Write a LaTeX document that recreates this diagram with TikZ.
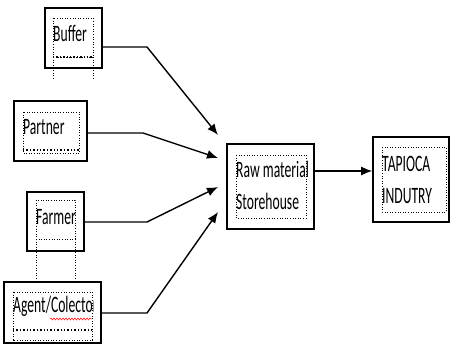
\documentclass[tikz,border=0pt]{standalone}
\usepackage{fontspec}
\setmainfont{Carlito}
\newfontfamily\narrowfont[FakeStretch=0.58]{Carlito}
\usetikzlibrary{arrows.meta,decorations.pathmorphing}

\begin{document}
\begin{tikzpicture}[x=1pt,y=-1pt,
	box/.style={draw, line width=1.6pt, inner sep=0pt},
	frame/.style={draw, dotted, line width=0.6pt},
	hatch/.style={draw, dotted, line width=1.4pt},
	lbl/.style={anchor=base west, inner sep=0pt, align=left, font=\narrowfont\fontsize{23.5}{32}\selectfont},
	feed/.style={line width=1.4pt, -{Latex[length=11pt,width=9pt]}}]
			%%%%% START %%%%%
			\useasboundingbox (0,0) rectangle (450,344);
			
			% sources
			\node[box, minimum width=57pt, minimum height=60pt] (buffer) at (73.5,38) {};
			\draw[frame] (53,18) rectangle (93,57);
			\draw[frame] (53,57) -- (53,78) (93,57) -- (93,78);
			\draw[hatch] (53,57) -- (93,57);
			\node[lbl] (bufferTxt) at (53,42) {Buffer};
			
			\node[box, minimum width=73pt, minimum height=60pt] (partner) at (50.5,131) {};
			\draw[frame] (23,112) rectangle (79,153);
			\draw[hatch] (23,150) -- (79,150);
			\node[lbl] (partnerTxt) at (23,135) {Partner};
			
			\node[box, minimum width=57pt, minimum height=59pt] (farmer) at (55.5,221.5) {};
			\draw[frame] (36,200) rectangle (75,239);
			\draw[frame] (36,239) -- (36,282) (75,239) -- (75,282);
			\node[lbl] (farmerTxt) at (36,225) {Farmer};
			
			\node[box, minimum width=97pt, minimum height=61pt] (agent) at (52.5,312.5) {};
			\draw[frame] (13,292) rectangle (92,340);
			\draw[frame] (13,340) -- (13,343) (92,340) -- (92,343);
			\draw[hatch] (13,330) -- (92,330);
			\begin{scope}
				\clip (13,290) rectangle (93,340);
				\node[lbl] (agentTxt) at (13,313) {Agent/Colector};
			\end{scope}
			\draw[red, line width=0.5pt, decorate, decoration={snake, amplitude=1pt, segment length=3pt}] (50,319) -- (92,319);
			
			% store and industry
			\node[box, minimum width=87pt, minimum height=85pt] (raw) at (270.5,186.5) {};
			\draw[frame] (236,155) rectangle (306,218);
			\node[lbl] (rawTxt) at (236,210) {Raw material\\Storehouse};
			
			\node[box, minimum width=76pt, minimum height=85pt] (tapioca) at (411,179.5) {};
			\draw[frame] (382,147) rectangle (446,212);
			\node[lbl] (tapiocaTxt) at (382,204) {TAPIOCA\\INDUTRY};
			
			% connectors
			\coordinate (bufferBend) at (147,47);
			\coordinate (bufferTip) at (218,135);
			\draw[feed] (buffer.east |- bufferBend) -- (bufferBend) -- (bufferTip);
			
			\coordinate (partnerBend) at (143,133);
			\coordinate (partnerTip) at (218,158);
			\draw[feed] (partner.east |- partnerBend) -- (partnerBend) -- (partnerTip);
			
			\coordinate (farmerBend) at (147,222);
			\coordinate (farmerTip) at (218,187);
			\draw[feed] (farmer.east |- farmerBend) -- (farmerBend) -- (farmerTip);
			
			\coordinate (agentBend) at (147,313);
			\coordinate (agentTip) at (218,212);
			\draw[feed] (agent.east |- agentBend) -- (agentBend) -- (agentTip);
			
			\coordinate (mainLine) at (0,171);
			\draw[feed] (raw.east |- mainLine) -- (tapioca.west |- mainLine);
			%%%%% END %%%%%
\end{tikzpicture}
\end{document}
